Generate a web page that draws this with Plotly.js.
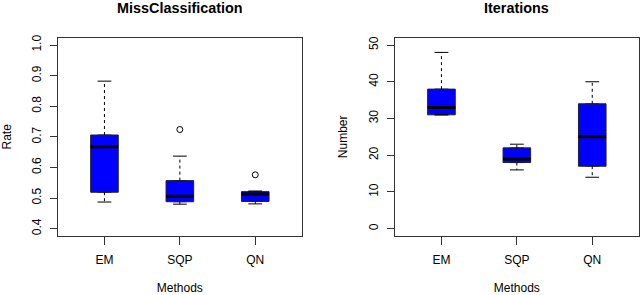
<!DOCTYPE html>
<html>
<head>
<meta charset="utf-8">
<script src="https://cdn.plot.ly/plotly-3.0.1.min.js"></script>
<style>html,body{margin:0;padding:0;background:#fff;}#chart{width:640px;height:295px;}</style>
</head>
<body>
<div id="chart"></div>
<script>
// ---- data ----
var methods = ['EM', 'SQP', 'QN'];
var positions = [1, 2, 3];

var rateLower  = [0.487, 0.480, 0.481];
var rateQ1     = [0.519, 0.488, 0.489];
var rateMedian = [0.668, 0.506, 0.513];
var rateQ3     = [0.706, 0.557, 0.521];
var rateUpper  = [0.882, 0.637, 0.523];
var rateOutlierMethod = [2, 3];
var rateOutlierValue  = [0.724, 0.576];

var iterLower  = [31, 16, 14];
var iterQ1     = [31, 18, 17];
var iterMedian = [33, 19, 25];
var iterQ3     = [38, 22, 34];
var iterUpper  = [48, 23, 40];

var rateTicks = [0.4, 0.5, 0.6, 0.7, 0.8, 0.9, 1.0];
var rateTickText = ['0.4', '0.5', '0.6', '0.7', '0.8', '0.9', '1.0'];
var iterTicks = [0, 10, 20, 30, 40, 50];
var iterTickText = ['0', '10', '20', '30', '40', '50'];

// ---- style ----
var FONT = 'Liberation Sans, Arial, Helvetica, sans-serif';
var BOXW = 0.366;
var CAPW = BOXW / 2;
var EDGE = '#222';

function buildPanel(xa, ya, lower, q1, med, q3, upper, outX, outY) {
  var traces = [];
  for (var i = 0; i < positions.length; i++) {
    var p = positions[i];
    traces.push({
      type: 'box', xaxis: xa, yaxis: ya,
      x: [p], q1: [q1[i]], median: [med[i]], q3: [q3[i]],
      lowerfence: [q1[i]], upperfence: [q3[i]],
      width: BOXW, fillcolor: '#0000FF',
      line: {color: EDGE, width: 1}, hoverinfo: 'skip', showlegend: false
    });
    traces.push({
      type: 'scatter', mode: 'lines', xaxis: xa, yaxis: ya,
      x: [p, p, null, p, p], y: [q3[i], upper[i], null, q1[i], lower[i]],
      line: {color: '#000', width: 1, dash: '3px,3px'}, hoverinfo: 'skip', showlegend: false
    });
    traces.push({
      type: 'scatter', mode: 'lines', xaxis: xa, yaxis: ya,
      x: [p - CAPW / 2, p + CAPW / 2, null, p - CAPW / 2, p + CAPW / 2],
      y: [upper[i], upper[i], null, lower[i], lower[i]],
      line: {color: '#000', width: 1}, hoverinfo: 'skip', showlegend: false
    });
    traces.push({
      type: 'scatter', mode: 'lines', xaxis: xa, yaxis: ya,
      x: [p - BOXW / 2, p + BOXW / 2], y: [med[i], med[i]],
      line: {color: '#000', width: 3}, hoverinfo: 'skip', showlegend: false
    });
  }
  if (outX) {
    traces.push({
      type: 'scatter', mode: 'markers', xaxis: xa, yaxis: ya,
      x: outX, y: outY,
      marker: {symbol: 'circle-open', size: 6, color: '#000', line: {width: 1, color: '#000'}},
      hoverinfo: 'skip', showlegend: false
    });
  }
  return traces;
}

var data = []
  .concat(buildPanel('x', 'y', rateLower, rateQ1, rateMedian, rateQ3, rateUpper, rateOutlierMethod, rateOutlierValue))
  .concat(buildPanel('x2', 'y2', iterLower, iterQ1, iterMedian, iterQ3, iterUpper, null, null));

function xAxis(domain, anchor) {
  return {
    domain: domain, anchor: anchor, range: [0.38, 3.62],
    tickmode: 'array', tickvals: positions, ticktext: methods,
    ticks: 'outside', ticklen: 8, tickwidth: 1, tickcolor: '#333',
    ticklabelstandoff: 5,
    showline: true, linecolor: '#333', linewidth: 1, mirror: true,
    showgrid: false, zeroline: false, fixedrange: true,
    tickfont: {family: FONT, size: 12, color: '#000'},
    title: {text: 'Methods', font: {family: FONT, size: 12, color: '#000'}, standoff: 19}
  };
}
function yAxis(domain, anchor, range, tv, tt, title) {
  return {
    domain: domain, anchor: anchor, range: range,
    tickmode: 'array', tickvals: tv, ticktext: tt, tickangle: -90,
    ticks: 'outside', ticklen: 7, tickwidth: 1, tickcolor: '#333',
    ticklabelstandoff: 4,
    showline: true, linecolor: '#333', linewidth: 1, mirror: true,
    showgrid: false, zeroline: false, fixedrange: true,
    tickfont: {family: FONT, size: 12, color: '#000'},
    title: {text: title, font: {family: FONT, size: 12, color: '#000'}, standoff: 16}
  };
}

var layout = {
  width: 640, height: 295,
  margin: {l: 0, r: 0, t: 0, b: 0},
  paper_bgcolor: '#fff', plot_bgcolor: '#fff',
  showlegend: false,
  xaxis: xAxis([57.7 / 640, 302 / 640], 'y'),
  yaxis: yAxis([0.2, 0.8722], 'x', [0.376, 1.024], rateTicks, rateTickText, 'Rate'),
  xaxis2: xAxis([394.7 / 640, 639 / 640], 'y2'),
  yaxis2: yAxis([0.2, 0.8722], 'x2', [-2, 52], iterTicks, iterTickText, 'Number'),
  annotations: [
    {text: '<b>MissClassification</b>', xref: 'paper', yref: 'paper',
     x: (57.7 + 302) / 2 / 640, y: 1 - 8 / 295, xanchor: 'center', yanchor: 'middle',
     showarrow: false, font: {family: FONT, size: 14.4, color: '#000'}},
    {text: '<b>Iterations</b>', xref: 'paper', yref: 'paper',
     x: (394.7 + 639) / 2 / 640, y: 1 - 8 / 295, xanchor: 'center', yanchor: 'middle',
     showarrow: false, font: {family: FONT, size: 14.4, color: '#000'}}
  ]
};

Plotly.newPlot('chart', data, layout, {displayModeBar: false, staticPlot: true});
</script>
</body>
</html>
